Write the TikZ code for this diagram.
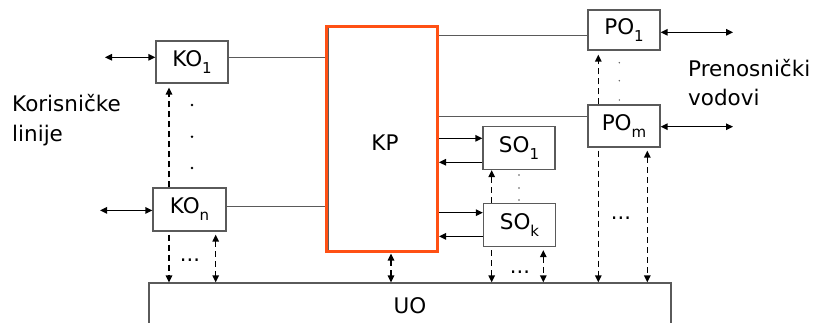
\documentclass[tikz,border=0pt]{standalone}
\usepackage{fontspec}
\setmainfont{DejaVu Sans}
\usetikzlibrary{arrows.meta}
\definecolor{boxgray}{HTML}{5A5A5A}
\definecolor{kporange}{HTML}{FF5014}
\newcommand\subtx[1]{\raisebox{-7pt}{\fontsize{15}{15}\selectfont #1}}
\begin{document}
\begin{tikzpicture}[x=1pt,y=-1pt,
  every node/.style={font=\fontsize{21.5}{25}\selectfont, inner sep=0pt},
  blk/.style={draw=boxgray, line width=1.2pt, fill=white, minimum width=72pt, minimum height=42pt},
  conn/.style={draw=boxgray, line width=1pt},
  tip/.tip={Triangle[length=7pt,width=6.5pt]},
  arr/.style={line width=1.3pt, -tip},
  darr/.style={line width=1.3pt, tip-tip},
  dsh/.style={line width=1.9pt, dash pattern=on 6pt off 4pt},
  bigdot/.style={circle, fill=black, minimum size=2.8pt, inner sep=0pt},
  smalldot/.style={circle, fill=boxgray, minimum size=1.6pt, inner sep=0pt},
  ell/.style={font=\fontsize{21}{24}\selectfont},
]
\useasboundingbox (0,0) rectangle (832,322);
\clip (0,0) rectangle (832,322);

% boxes
\node[blk] (KO1) at (192,62) {KO\subtx{1}};
\node[blk, minimum width=73pt, minimum height=43pt] (KOn) at (189.5,209.5) {KO\subtx{n}};
\node[blk, minimum height=43pt] (SO1) at (519,148) {SO\subtx{1}};
\node[blk, minimum height=43pt] (SOk) at (519.5,225) {SO\subtx{k}};
\node[blk, minimum height=40pt] (PO1) at (624,30) {PO\subtx{1}};
\node[blk] (POm) at (624,126) {PO\subtx{m}};
\node[draw=boxgray, line width=1.2pt, minimum width=522pt, minimum height=60pt] (UO) at (410,313) {};
\node (UOt) at (410,306) {UO};
\node[draw=kporange, line width=3pt, minimum width=111pt, minimum height=225pt] (KP) at (382,138.5) {};
\draw[boxgray, line width=1pt] ([xshift=3pt,yshift=-3pt]KP.north west) |- ([xshift=3pt,yshift=3pt]KP.south west);
\node (KPt) at (385,143) {KP};

% texts
\node[anchor=base west] (kor1) at (12,111.7) {Korisničke};
\node[anchor=base west] (kor2) at (12,141) {linije};
\node[anchor=base west] (pre1) at (688,76) {Prenosnički};
\node[anchor=base west] (pre2) at (688,105) {vodovi};

% helper coordinates
\coordinate (xa) at (169,0);
\coordinate (xb) at (215.7,0);
\coordinate (xc) at (391,0);
\coordinate (xd) at (491.7,0);
\coordinate (xe) at (543.3,0);
\coordinate (xf) at (598.3,0);
\coordinate (xg) at (647.3,0);
\coordinate (l1) at (105,57.3);
\coordinate (ln) at (100,210.4);
\coordinate (r1) at (733,32.3);
\coordinate (rm) at (733,126.7);

% lines KO -> KP
\draw[conn] (KO1.east |- 0,57.5) -- (KP.west |- 0,57.5);
\draw[conn] (KOn.east |- 0,206) -- (KP.west |- 0,206);
\draw[conn] (KP.east |- 0,35.5) -- (PO1.west |- 0,35.5);
\draw[conn] (KP.east |- 0,116.5) -- (POm.west |- 0,116.5);

% left/right arrows
\draw[darr] (l1) -- (KO1.west |- l1);
\draw[darr] (ln) -- (KOn.west |- ln);
\draw[darr] (PO1.east |- r1) -- (r1);
\draw[darr] (POm.east |- rm) -- (rm);

% SO arrows
\draw[arr] (KP.east |- 0,138.3) -- (SO1.west |- 0,138.3);
\draw[arr] (SO1.west |- 0,162.3) -- (KP.east |- 0,162.3);
\draw[arr] (KP.east |- 0,212.7) -- (SOk.west |- 0,212.7);
\draw[arr] (SOk.west |- 0,236.4) -- (KP.east |- 0,236.4);

% dashed verticals
\draw[dsh, arr, shorten >=4pt] (xa |- KOn.north) -- (xa |- KO1.south);
\draw[dsh, arr, shorten <=3pt] (xa |- KOn.south) -- (xa |- UO.north);
\draw[dsh, darr, shorten <=3pt] (xb |- KOn.south) -- (xb |- UO.north);
\draw[dsh, darr, shorten <=1pt] (xc |- KP.south) -- (xc |- UO.north);
\draw[dsh, arr] (xd |- SOk.north) -- (xd |- SO1.south);
\draw[dsh, arr, shorten <=3pt] (xd |- SOk.south) -- (xd |- UO.north);
\draw[dsh, darr, shorten <=3pt] (xe |- SOk.south) -- (xe |- UO.north);
\draw[dsh, arr, shorten >=4pt] (xf |- POm.north) -- (xf |- PO1.south);
\draw[dsh, arr, shorten <=3pt] (xf |- POm.south) -- (xf |- UO.north);
\draw[dsh, darr, shorten <=3pt] (xg |- POm.south) -- (xg |- UO.north);

% dots
\node[bigdot] (d1) at (192,105) {};
\node[bigdot] (d2) at (192,136.7) {};
\node[bigdot] (d3) at (192,168) {};
\node[smalldot] (s1) at (519,175) {};
\node[smalldot] (s2) at (519,188) {};
\node[smalldot] (s3) at (519,200) {};
\node[smalldot] (p1) at (619.3,62.7) {};
\node[smalldot] (p2) at (619.3,80.7) {};
\node[smalldot] (p3) at (619.3,100) {};
\node[ell] (e1) at (190,260) {...};
\node[ell] (e2) at (520,272) {...};
\node[ell] (e3) at (621,218) {...};
\end{tikzpicture}
\end{document}
